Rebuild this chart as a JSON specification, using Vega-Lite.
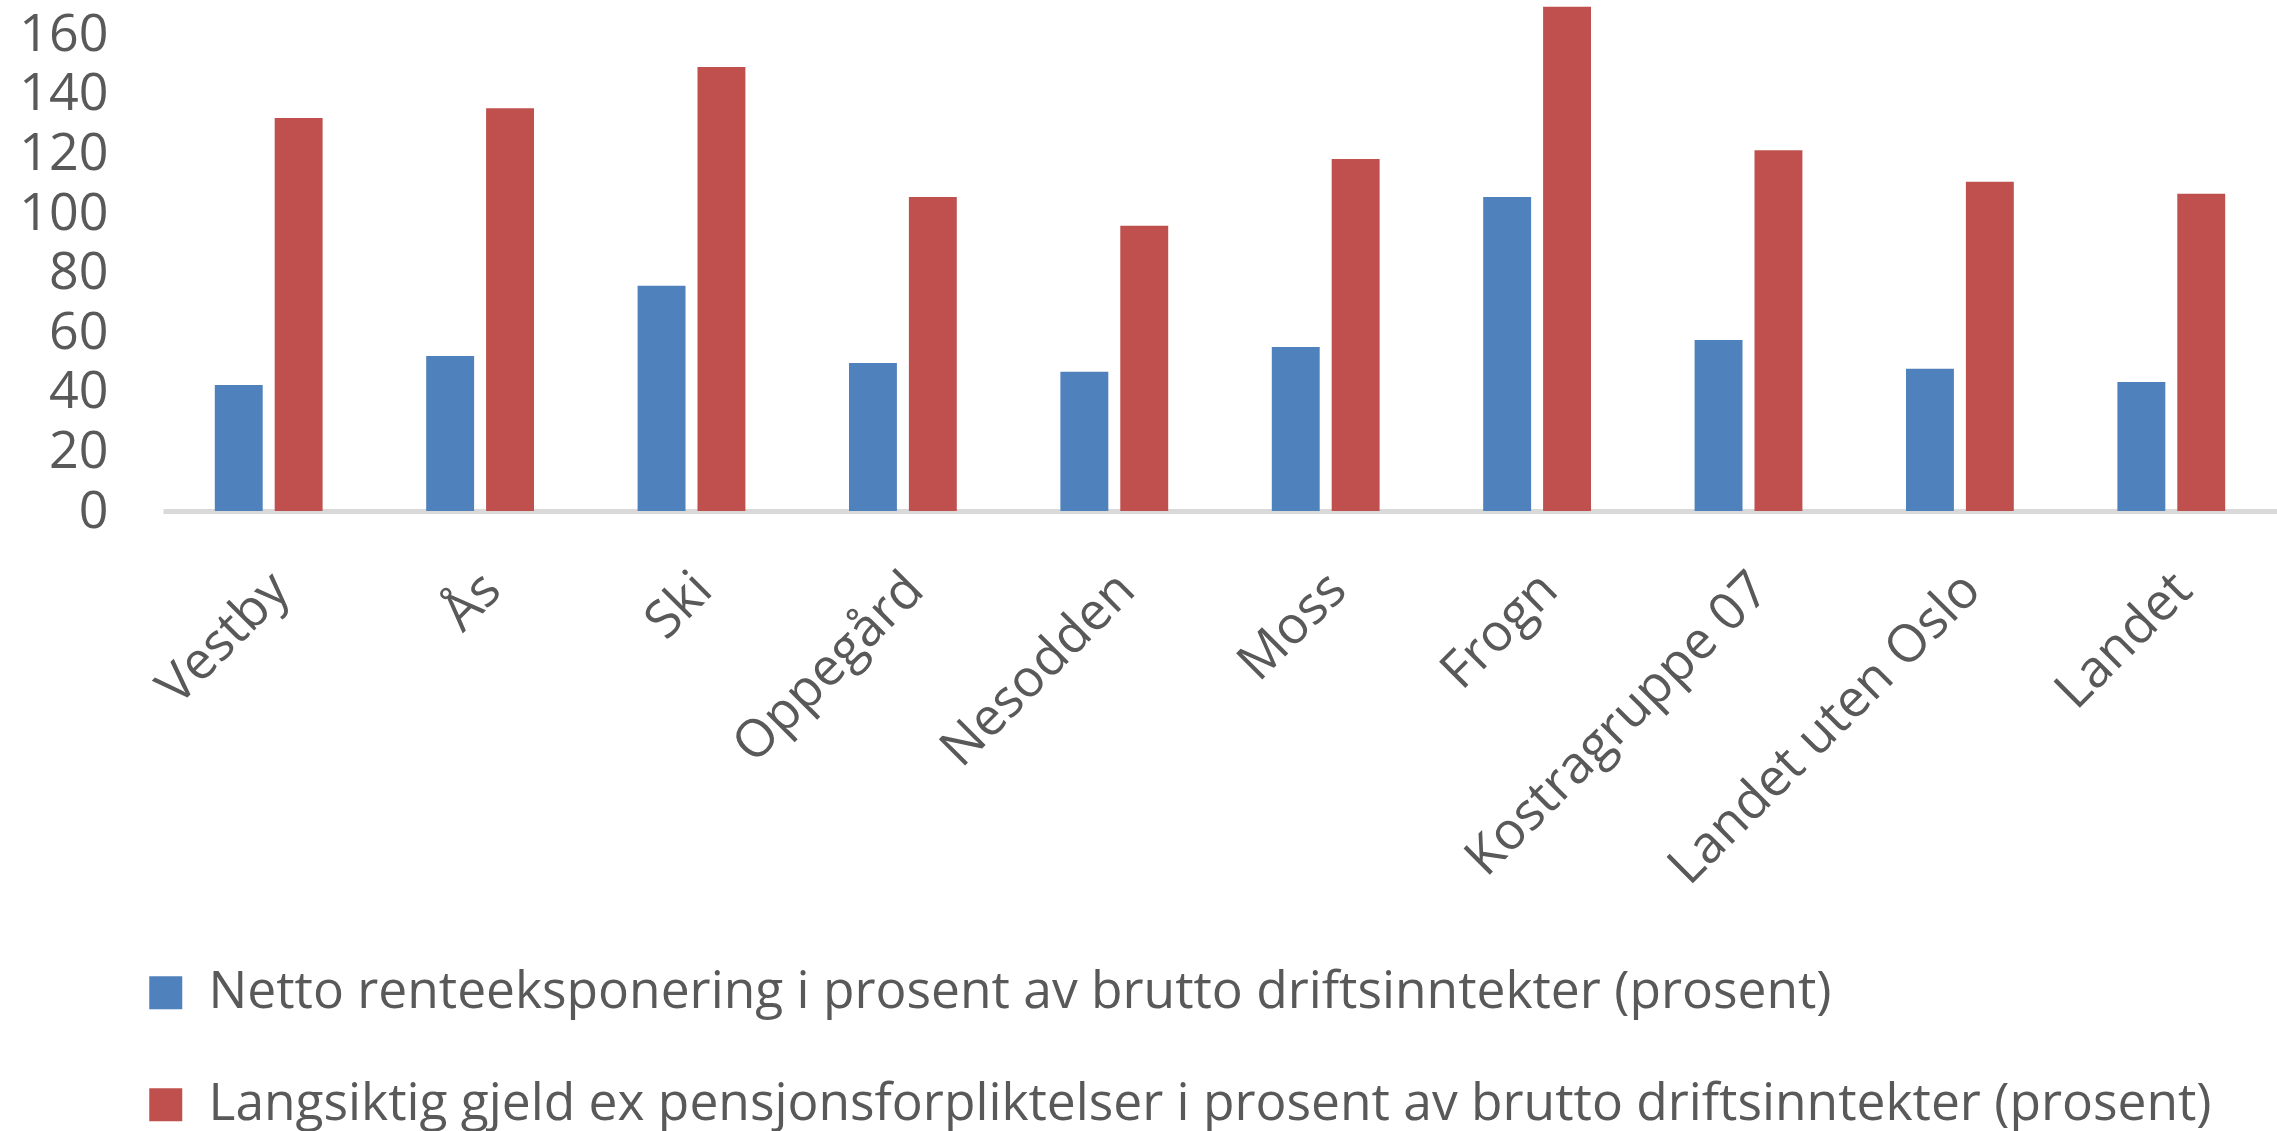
{
  "$schema": "https://vega.github.io/schema/vega-lite/v6.json",
  "width": 2114,
  "height": 511,
  "autosize": {"type": "none"},
  "padding": {"left": 163, "top": 0, "right": 0, "bottom": 620},
  "background": "#ffffff",
  "config": {
    "view": {"stroke": null},
    "font": "Open Sans",
    "axis": {"labelFont": "Open Sans", "labelColor": "#595959", "labelFontSize": 52, "grid": false, "ticks": false}
  },
  "data": {
    "values": [
      {"kommune": "Vestby", "serie": "Netto renteeksponering i prosent av brutto driftsinntekter (prosent)", "verdi": 42.3},
      {"kommune": "Vestby", "serie": "Langsiktig gjeld ex pensjonsforpliktelser i prosent av brutto driftsinntekter (prosent)", "verdi": 131.9},
      {"kommune": "Ås", "serie": "Netto renteeksponering i prosent av brutto driftsinntekter (prosent)", "verdi": 52.0},
      {"kommune": "Ås", "serie": "Langsiktig gjeld ex pensjonsforpliktelser i prosent av brutto driftsinntekter (prosent)", "verdi": 135.2},
      {"kommune": "Ski", "serie": "Netto renteeksponering i prosent av brutto driftsinntekter (prosent)", "verdi": 75.6},
      {"kommune": "Ski", "serie": "Langsiktig gjeld ex pensjonsforpliktelser i prosent av brutto driftsinntekter (prosent)", "verdi": 149.0},
      {"kommune": "Oppegård", "serie": "Netto renteeksponering i prosent av brutto driftsinntekter (prosent)", "verdi": 49.7},
      {"kommune": "Oppegård", "serie": "Langsiktig gjeld ex pensjonsforpliktelser i prosent av brutto driftsinntekter (prosent)", "verdi": 105.4},
      {"kommune": "Nesodden", "serie": "Netto renteeksponering i prosent av brutto driftsinntekter (prosent)", "verdi": 46.7},
      {"kommune": "Nesodden", "serie": "Langsiktig gjeld ex pensjonsforpliktelser i prosent av brutto driftsinntekter (prosent)", "verdi": 95.7},
      {"kommune": "Moss", "serie": "Netto renteeksponering i prosent av brutto driftsinntekter (prosent)", "verdi": 55.0},
      {"kommune": "Moss", "serie": "Langsiktig gjeld ex pensjonsforpliktelser i prosent av brutto driftsinntekter (prosent)", "verdi": 118.1},
      {"kommune": "Frogn", "serie": "Netto renteeksponering i prosent av brutto driftsinntekter (prosent)", "verdi": 105.4},
      {"kommune": "Frogn", "serie": "Langsiktig gjeld ex pensjonsforpliktelser i prosent av brutto driftsinntekter (prosent)", "verdi": 169.2},
      {"kommune": "Kostragruppe 07", "serie": "Netto renteeksponering i prosent av brutto driftsinntekter (prosent)", "verdi": 57.4},
      {"kommune": "Kostragruppe 07", "serie": "Langsiktig gjeld ex pensjonsforpliktelser i prosent av brutto driftsinntekter (prosent)", "verdi": 121.1},
      {"kommune": "Landet uten Oslo", "serie": "Netto renteeksponering i prosent av brutto driftsinntekter (prosent)", "verdi": 47.7},
      {"kommune": "Landet uten Oslo", "serie": "Langsiktig gjeld ex pensjonsforpliktelser i prosent av brutto driftsinntekter (prosent)", "verdi": 110.5},
      {"kommune": "Landet", "serie": "Netto renteeksponering i prosent av brutto driftsinntekter (prosent)", "verdi": 43.3},
      {"kommune": "Landet", "serie": "Langsiktig gjeld ex pensjonsforpliktelser i prosent av brutto driftsinntekter (prosent)", "verdi": 106.5}
    ]
  },
  "mark": {"type": "bar"},
  "encoding": {
    "x": {
      "field": "kommune",
      "type": "nominal",
      "sort": null,
      "scale": {"paddingInner": 0.49, "paddingOuter": 0.245},
      "axis": {
        "title": null,
        "labelAngle": -45,
        "labelAlign": "right",
        "labelBaseline": "middle",
        "labelPadding": 70,
        "labelOffset": 12,
        "labelLimit": 1000,
        "labelOverlap": false,
        "domain": true,
        "domainColor": "#D9D9D9",
        "domainWidth": 5
      }
    },
    "xOffset": {
      "field": "serie",
      "type": "nominal",
      "sort": null,
      "scale": {"paddingInner": 0.2, "paddingOuter": 0}
    },
    "y": {
      "field": "verdi",
      "type": "quantitative",
      "scale": {"domain": [0, 171.5], "nice": false, "zero": true},
      "axis": {
        "title": null,
        "domain": false,
        "values": [0, 20, 40, 60, 80, 100, 120, 140, 160],
        "labelPadding": 55
      }
    },
    "color": {
      "field": "serie",
      "type": "nominal",
      "sort": null,
      "scale": {
        "domain": [
          "Netto renteeksponering i prosent av brutto driftsinntekter (prosent)",
          "Langsiktig gjeld ex pensjonsforpliktelser i prosent av brutto driftsinntekter (prosent)"
        ],
        "range": ["#4F81BD", "#C0504D"]
      },
      "legend": {
        "title": null,
        "orient": "none",
        "legendX": -23,
        "legendY": 967,
        "direction": "vertical",
        "padding": 0,
        "symbolType": "square",
        "symbolSize": 1089,
        "symbolStrokeWidth": 0,
        "symbolOpacity": 1,
        "labelFont": "Open Sans",
        "labelFontSize": 51.5,
        "labelColor": "#595959",
        "labelOffset": 17,
        "labelLimit": 2200,
        "rowPadding": 59
      }
    }
  }
}
